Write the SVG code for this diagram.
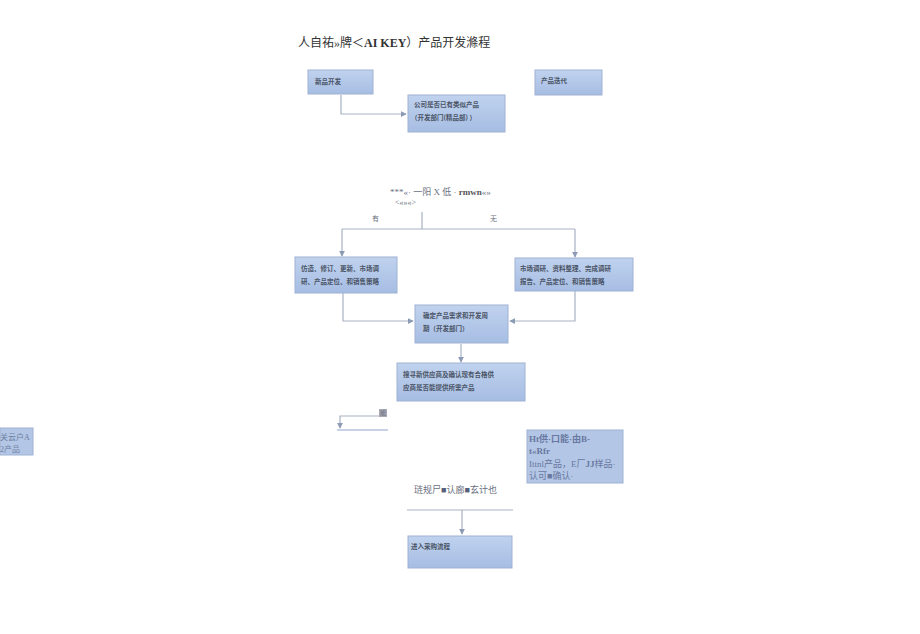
<svg xmlns="http://www.w3.org/2000/svg" width="920" height="634" viewBox="0 0 920 634">
<defs>
<linearGradient id="bg" x1="0" y1="0" x2="0" y2="1">
<stop offset="0" stop-color="#c0d2ee"/>
<stop offset="1" stop-color="#a6bde3"/>
</linearGradient>
<marker id="ar" viewBox="0 0 8 8" refX="7" refY="4" markerWidth="6" markerHeight="6" orient="auto" markerUnits="userSpaceOnUse">
<path d="M0,0 L8,4 L0,8 z" fill="#8c9bb5"/>
</marker>
</defs>
<style>
.box{fill:url(#bg);stroke:#9fb2d2;stroke-width:1}
.t{font-family:"Noto Sans CJK SC",sans-serif;font-size:6.5px;fill:#4a5466;font-weight:bold}
.s{font-family:"Liberation Serif","Noto Sans CJK SC",serif;fill:#6a7080}
.r{font-family:"Liberation Serif","Noto Sans CJK SC",serif;font-size:9px;fill:#6878a0}
.c{fill:none;stroke:#a8b2c4;stroke-width:1.2}
</style>
<rect width="920" height="634" fill="#ffffff"/>
<text x="298" y="47" class="s" style="font-size:12px;fill:#333">人自祐»牌＜<tspan font-weight="bold">AI KEY</tspan>）产品开发滌程</text>

<g id="connectors">
<polyline class="c" points="341,95 341,114 406,114" marker-end="url(#ar)"/>
<line class="c" x1="422" y1="212" x2="422" y2="229"/>
<polyline class="c" points="342,229 575,229"/>
<line class="c" x1="342" y1="229" x2="342" y2="256" marker-end="url(#ar)"/>
<line class="c" x1="575" y1="229" x2="575" y2="257" marker-end="url(#ar)"/>
<polyline class="c" points="343,293 343,321 413,321" marker-end="url(#ar)"/>
<polyline class="c" points="575,291 575,321 510,321" marker-end="url(#ar)"/>
<line class="c" x1="461" y1="344" x2="461" y2="362" marker-end="url(#ar)"/>
<polyline class="c" points="385,416 340,416 340,428" marker-end="url(#ar)"/>
<line x1="337" y1="430" x2="388" y2="430" stroke="#8fa6cf" stroke-width="1.2"/>
<line class="c" x1="407" y1="510" x2="513" y2="510"/>
<line class="c" x1="462" y1="510" x2="462" y2="534" marker-end="url(#ar)"/>
</g>

<g id="n1"><rect class="box" x="308" y="70" width="65" height="24"/><text class="t" x="315" y="84">新品开发</text></g>
<g id="n2"><rect class="box" x="535" y="70" width="67" height="25"/><text class="t" x="541" y="83">产品迭代</text></g>
<g id="n3"><rect class="box" x="408" y="95" width="97" height="37"/>
<text class="t" x="414" y="107">公司是否已有类似产品</text>
<text class="t" x="411" y="120">（开发部门(精品部)  ）</text></g>

<g id="q">
<text class="s" x="390" y="195" style="font-size:9px">***«· 一阳 X 低 · <tspan font-weight="bold" fill="#555">rmwn</tspan>«»</text>
<text class="s" x="395" y="205" style="font-size:8px">&lt;«»«&gt;</text>
<text class="s" x="372" y="221" style="font-size:7px">有</text>
<text class="s" x="490" y="221" style="font-size:7px">无</text>
</g>

<g id="n4"><rect class="box" x="295" y="257" width="102" height="36"/>
<text class="t" x="301" y="271">仿造、修订、更新、市场调</text>
<text class="t" x="301" y="284">研、产品定位、和销售策略</text></g>
<g id="n5"><rect class="box" x="515" y="258" width="118" height="33"/>
<text class="t" x="520" y="271">市场调研、资料整理、完成调研</text>
<text class="t" x="520" y="284">报告、产品定位、和销售策略</text></g>

<g id="n6"><rect class="box" x="415" y="305" width="93" height="38"/>
<text class="t" x="423" y="318">确定产品需求和开发周</text>
<text class="t" x="423" y="331">期（开发部门）</text></g>

<g id="n7"><rect class="box" x="397" y="363" width="128" height="38"/>
<text class="t" x="403" y="377">搜寻新供应商及确认现有合格供</text>
<text class="t" x="403" y="390">应商是否能提供所需产品</text></g>

<g id="lbl"><rect x="379" y="409" width="8" height="8" fill="#a8a8b4"/><text class="s" x="380" y="415" style="font-size:6px">能</text></g>

<g id="n8"><rect x="0" y="428" width="33" height="27" fill="#b3c6e6" stroke="#9fb2d2"/>
<text class="s" x="0" y="440" style="font-size:8px;fill:#7080a0">关云户A</text>
<text class="s" x="0" y="452" style="font-size:8px;fill:#7080a0">2产品</text></g>

<g id="n9"><rect x="527" y="430" width="96" height="53" fill="#b3c6e6" stroke="#9fb2d2"/>
<text class="r" x="529" y="442" font-weight="bold">Ht供·口能·由B-</text>
<text class="r" x="529" y="454" font-weight="bold">t«Rfr</text>
<text class="r" x="529" y="467">Ittnl产品，E厂<tspan font-weight="bold">JJ</tspan>样品·</text>
<text class="r" x="529" y="479">认可■确认·</text></g>

<g id="n10"><text class="s" x="414" y="493" style="font-size:9px;fill:#6a7080">琏规尸<tspan fill="#56607a">■</tspan>认廊<tspan fill="#56607a">■</tspan>玄计也</text></g>

<g id="n11"><rect class="box" x="408" y="536" width="104" height="32"/>
<text class="t" x="411" y="549">进入采购流程</text></g>
</svg>
